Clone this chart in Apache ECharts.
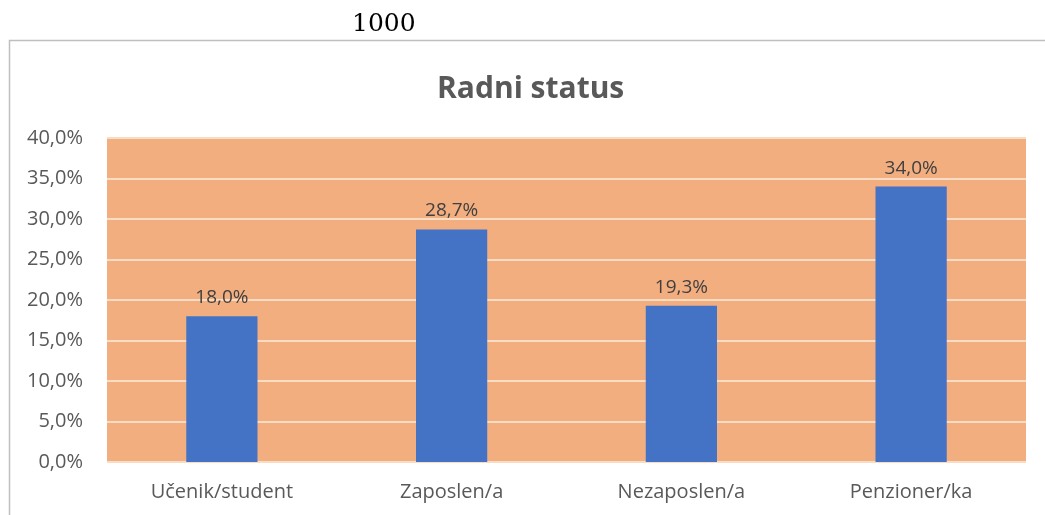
<!DOCTYPE html>
<html>
<head>
<meta charset="utf-8">
<script src="https://cdn.jsdelivr.net/npm/echarts@6/dist/echarts.min.js"></script>
<style>
  html, body { margin: 0; padding: 0; background: #fff; }
  #main { width: 1045px; height: 515px; }
</style>
</head>
<body>
<div id="main"></div>
<script>
var categories = ['Učenik/student', 'Zaposlen/a', 'Nezaposlen/a', 'Penzioner/ka'];
var shares = [18.0, 28.7, 19.3, 34.0];
var yTicks = { min: 0, max: 40, step: 5 };

function pct(v) {
  return v.toFixed(1).replace('.', ',') + '%';
}

var option = {
  backgroundColor: '#ffffff',
  animation: false,
  textStyle: { fontFamily: 'Open Sans' },
  graphic: [
    {
      type: 'text',
      left: 352, top: 12,
      style: { text: '1000', font: '25px "DejaVu Serif"', fill: '#000' }
    },
    {
      type: 'rect',
      shape: { x: 9.5, y: 40.5, width: 1050, height: 490 },
      style: { fill: 'none', stroke: '#bfbfbf', lineWidth: 1.5 },
      z: -1
    }
  ],
  title: {
    text: 'Radni status',
    left: 432, top: 69,
    textStyle: { fontFamily: 'Open Sans', fontSize: 30, fontWeight: 'bold', color: '#595959' }
  },
  grid: {
    left: 107, right: 19, top: 138, bottom: 53,
    show: true, backgroundColor: '#f3ae80', borderWidth: 0
  },
  xAxis: {
    type: 'category',
    data: categories,
    axisLine: { show: false },
    axisTick: { show: false },
    axisLabel: { color: '#595959', fontSize: 20, margin: 20 }
  },
  yAxis: {
    type: 'value',
    min: yTicks.min, max: yTicks.max, interval: yTicks.step,
    axisLine: { show: false },
    axisTick: { show: false },
    splitLine: { lineStyle: { color: '#f8dcc3', width: 2 } },
    axisLabel: { color: '#595959', fontSize: 20, margin: 24, formatter: pct }
  },
  series: [{
    type: 'bar',
    data: shares,
    barWidth: '31%',
    itemStyle: { color: '#4472c4' },
    label: {
      show: true, position: 'top', distance: 9,
      color: '#404040', fontSize: 19,
      formatter: function (p) { return pct(p.value); }
    }
  }]
};
echarts.init(document.getElementById('main')).setOption(option);
</script>
</body>
</html>
